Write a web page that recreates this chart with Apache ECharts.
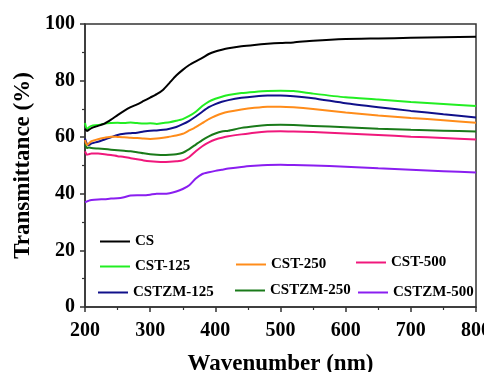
<!DOCTYPE html>
<html>
<head>
<meta charset="utf-8">
<script src="https://cdn.jsdelivr.net/npm/echarts@6/dist/echarts.min.js"></script>
<style>html,body{margin:0;padding:0;background:#fff;}#c{width:484px;height:372px;}</style>
</head>
<body>
<div id="c"></div>
<script>
var wavelengths = [200,203,206,210,220,230,240,250,260,270,280,290,300,310,320,330,340,350,360,370,380,390,400,410,420,440,460,480,500,520,550,600,650,700,750,800];
var CS = [63,62.2,62.6,63.2,64,64.8,66.2,67.8,69.3,70.6,71.6,72.8,74,75.2,76.8,79.3,81.8,83.8,85.5,86.8,88,89.4,90.3,90.9,91.4,92.1,92.6,93,93.3,93.5,94.1,94.7,94.9,95.1,95.3,95.5];
var CST125 = [65,62.8,63.5,64,64.3,64.8,65,65.1,65,65.2,65,64.8,64.9,64.7,65,65.3,65.8,66.4,67.5,69,71,72.6,73.6,74.3,74.9,75.6,76,76.3,76.4,76.3,75.4,74.1,73.3,72.4,71.7,71];
var CST250 = [59,57.2,57.8,58.6,59.3,59.8,60.2,60.1,60,59.8,59.7,59.5,59.4,59.5,59.8,60.2,60.6,61.2,62.4,63.6,65,66.4,67.5,68.4,69,69.8,70.4,70.8,70.8,70.6,70,68.7,67.7,66.8,66,65.1];
var CST500 = [55,53.8,54,54.2,54.2,54,53.7,53.3,53,52.6,52.2,51.8,51.5,51.3,51.2,51.3,51.5,51.8,53,55,56.8,58.2,59.2,59.8,60.3,61,61.6,62,62.1,62,61.8,61.3,60.8,60.2,59.7,59.2];
var CSTZM125 = [59.5,57.6,57.2,57.8,58.4,59.2,60,60.8,61.2,61.4,61.6,62,62.3,62.4,62.6,63,63.6,64.6,65.8,67.3,69,70.6,71.7,72.5,73.1,73.9,74.4,74.7,74.7,74.5,73.8,72,70.6,69.3,68.1,67];
var CSTZM250 = [57.5,56.2,56.4,56.2,56,55.8,55.6,55.4,55.2,55,54.7,54.3,54,53.8,53.7,53.8,54,54.5,55.8,57.4,59,60.3,61.3,62,62.3,63.3,63.9,64.3,64.4,64.3,64,63.5,63,62.6,62.3,62];
var CSTZM500 = [37,37.3,37.6,37.8,38,38.1,38.3,38.4,38.8,39.4,39.5,39.5,39.7,40,40,40.2,40.8,41.7,43,45.4,47,47.6,48.1,48.5,48.9,49.5,49.9,50.2,50.3,50.2,50,49.6,49,48.5,48,47.5];
var xTicks = [200,300,400,500,600,700,800];
var yTicks = [0,20,40,60,80,100];

var names = ['CS','CST-125','CST-250','CST-500','CSTZM-125','CSTZM-250','CSTZM-500'];
var values = [CS, CST125, CST250, CST500, CSTZM125, CSTZM250, CSTZM500];
var colors = ['#000000','#22ee22','#ff8c1a','#f0187c','#10108a','#1a7a1a','#8a1ef0'];
var legendPos = [[100,234],[100,259],[236,257],[356,255],[98,285],[235,283],[358,285]];

var font = 'Liberation Serif, Times New Roman, serif';
function pairs(arr){ return wavelengths.map(function(w,i){ return [w, arr[i]]; }); }

var series = names.map(function(n,i){
  return {name:n,type:'line',data:pairs(values[i]),showSymbol:false,symbol:'none',
    lineStyle:{width:2,color:colors[i]},itemStyle:{color:colors[i]},smooth:0.2,z:10-i};
});
var legends = names.map(function(n,i){
  return {data:[n],left:legendPos[i][0],top:legendPos[i][1],padding:0,icon:'rect',itemWidth:30,itemHeight:2,
    textStyle:{fontFamily:font,fontWeight:'bold',fontSize:15,color:'#000'},selectedMode:false};
});

var chart = echarts.init(document.getElementById('c'));
chart.setOption({
  animation:false,
  backgroundColor:'#fff',
  grid:{left:85,right:8,top:24,bottom:65,show:true,borderColor:'#333',borderWidth:1.5,containLabel:false,outerBoundsMode:'none'},
  legend:legends,
  xAxis:{type:'value',min:xTicks[0],max:xTicks[xTicks.length-1],interval:100,
    name:'Wavenumber (nm)',nameLocation:'middle',nameGap:46,
    nameTextStyle:{fontFamily:font,fontWeight:'bold',fontSize:23,color:'#000'},
    axisLine:{lineStyle:{color:'#333',width:1.5}},
    axisTick:{show:true,inside:false,length:5,lineStyle:{color:'#333',width:1.5}},
    minorTick:{show:true,splitNumber:2,length:3,lineStyle:{color:'#333',width:1.2}},
    splitLine:{show:false},
    axisLabel:{margin:14,fontFamily:font,fontWeight:'bold',fontSize:20,color:'#000'}},
  yAxis:{type:'value',min:yTicks[0],max:yTicks[yTicks.length-1],interval:20,
    name:'Transmittance (%)',nameLocation:'middle',nameGap:48,
    nameTextStyle:{fontFamily:font,fontWeight:'bold',fontSize:23,color:'#000'},
    axisLine:{show:true,lineStyle:{color:'#333',width:1.5}},
    axisTick:{show:true,inside:false,length:5,lineStyle:{color:'#333',width:1.5}},
    minorTick:{show:true,splitNumber:2,length:3,lineStyle:{color:'#333',width:1.2}},
    splitLine:{show:false},
    axisLabel:{margin:10,fontFamily:font,fontWeight:'bold',fontSize:20,color:'#000'}},
  series:series
});
</script>
</body>
</html>
